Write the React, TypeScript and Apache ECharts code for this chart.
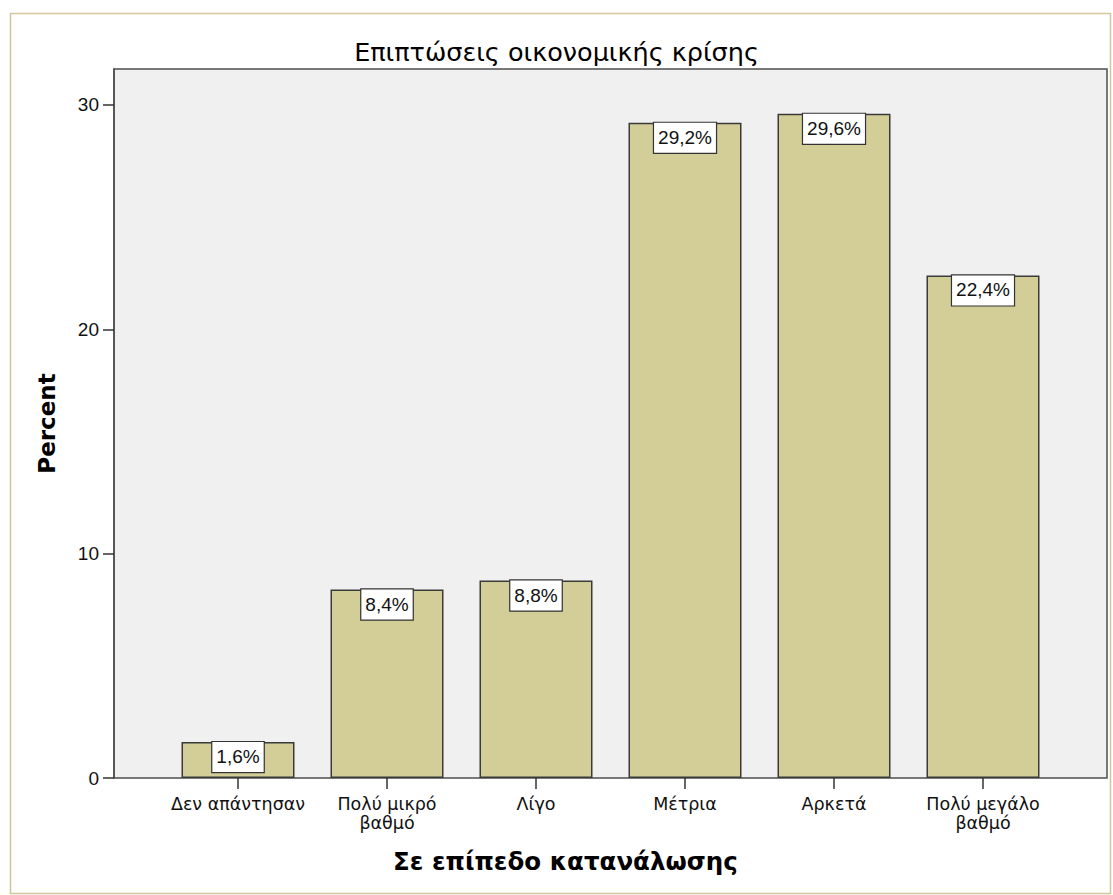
import React, { useEffect, useRef } from "react";
import * as echarts from "echarts";

const categories = [
  "Δεν απάντησαν",
  "Πολύ μικρό\nβαθμό",
  "Λίγο",
  "Μέτρια",
  "Αρκετά",
  "Πολύ μεγάλο\nβαθμό",
];
const percents = [1.6, 8.4, 8.8, 29.2, 29.6, 22.4];
const yTicks = [0, 10, 20, 30];

const chartTitle = "Επιπτώσεις οικονομικής κρίσης";
const xAxisTitle = "Σε επίπεδο κατανάλωσης";
const yAxisTitle = "Percent";

const SANS = "Arial, 'Liberation Sans', sans-serif";
const WIDE = "'DejaVu Sans', Verdana, sans-serif";

export default function App() {
  const ref = useRef<HTMLDivElement>(null);

  useEffect(() => {
    document.body.style.margin = "0";
    if (!ref.current) return;
    const chart = echarts.init(ref.current, null, { renderer: "svg" });

    // plot frame (wider than the band area of the categories)
    const frame = { x: 114, y: 69, w: 993, h: 709 };

    chart.setOption({
      animation: false,
      backgroundColor: "#ffffff",
      textStyle: { fontFamily: SANS },
      title: [
        {
          text: chartTitle,
          left: "center",
          top: 34,
          textStyle: { fontFamily: WIDE, fontSize: 25.5, fontWeight: "normal", color: "#000" },
        },
        {
          text: xAxisTitle,
          left: 388,
          top: 844,
          textStyle: { fontFamily: WIDE, fontSize: 24.5, fontWeight: "bold", color: "#000" },
        },
      ],
      graphic: [
        {
          type: "rect",
          z: -10,
          silent: true,
          shape: { x: 10.5, y: 13.5, width: 1100, height: 880 },
          style: { fill: "#ffffff", stroke: "#cfc69c", lineWidth: 1.5 },
        },
        {
          type: "rect",
          z: -5,
          silent: true,
          shape: { x: frame.x, y: frame.y, width: frame.w, height: frame.h },
          style: { fill: "#f0f0f0", stroke: "#4d4d4d", lineWidth: 1.5 },
        },
      ],
      grid: { left: 163.5, right: 55.5, top: 69, bottom: 117, containLabel: false },
      xAxis: {
        type: "category",
        data: categories,
        axisLine: { show: false },
        axisTick: { show: true, alignWithLabel: true, length: 11, lineStyle: { color: "#333", width: 1.5 } },
        axisLabel: {
          margin: 17,
          fontFamily: WIDE,
          fontSize: 17.5,
          lineHeight: 18.5,
          color: "#111",
          interval: 0,
        },
      },
      yAxis: {
        type: "value",
        min: 0,
        max: 31.6,
        interval: 10,
        offset: 49.5,
        name: yAxisTitle,
        nameLocation: "middle",
        nameRotate: 90,
        nameGap: 56,
        nameTextStyle: { fontFamily: WIDE, fontSize: 23, fontWeight: "bold", color: "#000" },
        axisLine: { show: true, lineStyle: { color: "#4d4d4d", width: 1.5 } },
        axisTick: { show: true, length: 11, customValues: yTicks, lineStyle: { color: "#333", width: 1.5 } },
        axisLabel: {
          margin: 15,
          fontFamily: SANS,
          fontSize: 19,
          color: "#111",
          customValues: yTicks,
        },
        splitLine: { show: false },
      },
      series: [
        {
          type: "bar",
          data: percents,
          barWidth: 113,
          itemStyle: { color: "#d3ce97", borderColor: "#3a3a3a", borderWidth: 1.5 },
          label: {
            show: true,
            position: "insideTop",
            distance: 0,
            formatter: (p: any) => `${Number(p.value).toFixed(1).replace(".", ",")}%`,
            fontFamily: SANS,
            fontSize: 19,
            color: "#111",
            backgroundColor: "#ffffff",
            borderColor: "#333",
            borderWidth: 1.2,
            padding: [5, 4, 6, 4],
          },
        },
      ],
    });

    return () => chart.dispose();
  }, []);

  return <div ref={ref} style={{ width: 1113, height: 895 }} />;
}
